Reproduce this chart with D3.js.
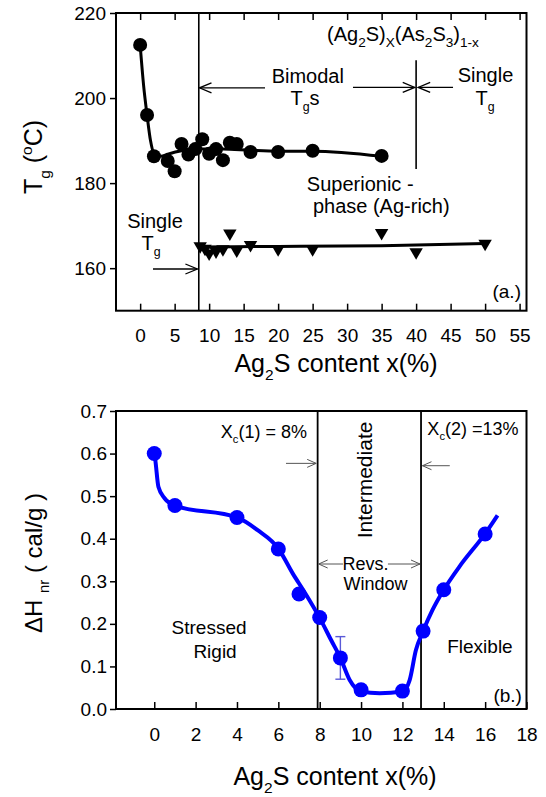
<!DOCTYPE html>
<html>
<head>
<meta charset="utf-8">
<script src="https://cdn.jsdelivr.net/npm/d3@7"></script>
<style>
  body { margin: 0; background: #fff; }
  svg text { font-family: Arial, "Liberation Sans", sans-serif; fill: #000; }
</style>
</head>
<body>
<svg id="chart"></svg>
<script>
// ---- panel (a.) data : Tg vs Ag2S content ----
const tgCircX = [0, 1, 2, 4, 5, 6, 7, 8, 9, 10, 11, 12, 13, 14, 16, 20, 25, 35];
const tgCircY = [212.5, 196, 186.3, 185.2, 182.8, 189.2, 186.7, 188, 190.3, 186.9, 188, 185.4, 189.5, 189.2, 187.3, 187.3, 187.6, 186.4];
const tgCircFitX = [0, 0.5, 1, 1.5, 2, 3, 4, 6, 8, 12, 16, 20, 25, 35];
const tgCircFitY = [212.5, 203, 196, 190, 187, 186.3, 186.8, 187.6, 188, 188, 187.7, 187.5, 187.5, 186.3];
const tgTriX = [8.7, 9.4, 10, 11, 12, 13, 14, 16, 20, 25, 35, 40, 50];
const tgTriY = [165.2, 164.6, 163.5, 164, 164.5, 168.2, 164.2, 165.5, 164.5, 164.5, 168.3, 163.8, 165.8];
const tgTriFitX = [8.5, 20, 35, 50];
const tgTriFitY = [165, 165.1, 165.3, 165.8];
const topTicksX = [0, 5, 10, 15, 20, 25, 30, 35, 40, 45, 50, 55];
const topTicksY = [160, 180, 200, 220];

// ---- panel (b.) data : non-reversing enthalpy ----
const dhX = [0, 1, 4, 6, 7, 8, 9, 10, 12, 13, 14, 16];
const dhY = [0.6, 0.478, 0.45, 0.376, 0.27, 0.215, 0.12, 0.045, 0.042, 0.183, 0.28, 0.411];
const dhFitX = [0, 0.05, 0.2, 0.5, 1, 4, 5, 6, 6.7, 7.3, 8, 8.55, 9, 9.45, 10, 10.9, 12, 12.35, 12.65, 13, 13.45, 14, 14.75, 16, 16.6];
const dhFitY = [0.6, 0.585, 0.522, 0.495, 0.478, 0.45, 0.42, 0.377, 0.318, 0.272, 0.214, 0.162, 0.12, 0.068, 0.041, 0.037, 0.041, 0.068, 0.138, 0.183, 0.232, 0.28, 0.334, 0.412, 0.455];
const dhErrX = [9];
const dhErrLo = [0.07];
const dhErrHi = [0.17];
const botTicksX = [0, 2, 4, 6, 8, 10, 12, 14, 16, 18];
const botTicksY = [0.0, 0.1, 0.2, 0.3, 0.4, 0.5, 0.6, 0.7];
const windowEdges = [7.9, 12.9];

const svg = d3.select('#chart').attr('width', 546).attr('height', 797);

// small helper for text with sub/superscripts
function richText(g, parts, size, ratio = 0.62) {
  const t = g.append('text').style('font-size', size + 'px');
  let shift = 0;
  parts.forEach(([str, kind]) => {
    const target = kind === 'sub' ? size * 0.3 : kind === 'sup' ? -size * 0.4 : 0;
    t.append('tspan')
      .text(str)
      .attr('dy', target - shift)
      .style('font-size', (kind ? size * ratio : size) + 'px');
    shift = target;
  });
  return t;
}

// line with open chevron head at (x2,y2)
function arrow(g, x1, y1, x2, y2, len, half, col, w) {
  g.append('line').attr('x1', x1).attr('y1', y1).attr('x2', x2).attr('y2', y2)
    .style('stroke', col).style('stroke-width', w);
  const dir = Math.sign(x2 - x1);
  g.append('path')
    .attr('d', `M${x2 - dir * len},${y2 - half}L${x2},${y2}L${x2 - dir * len},${y2 + half}`)
    .style('fill', 'none').style('stroke', col).style('stroke-width', w);
}

// ================= panel (a.) =================
const xA = d3.scaleLinear().domain([-3.5, 56]).range([116, 526.5]);
const yA = d3.scaleLinear().domain([150, 220]).range([310.7, 13]);
const gA = svg.append('g');

gA.append('g').attr('transform', `translate(0,${yA(150)})`)
  .call(d3.axisBottom(xA).tickValues(topTicksX).tickSizeInner(-7).tickSizeOuter(0).tickPadding(18))
  .call(a => a.select('.domain').remove());
gA.append('g').attr('transform', `translate(0,${yA(220)})`)
  .call(d3.axisTop(xA).tickValues(topTicksX).tickSizeInner(-7).tickSizeOuter(0).tickFormat(''))
  .call(a => a.select('.domain').remove());
gA.append('g').attr('transform', `translate(${xA(-3.5)},0)`)
  .call(d3.axisLeft(yA).tickValues(topTicksY).tickSizeInner(6).tickSizeOuter(0).tickPadding(4))
  .call(a => a.select('.domain').remove());

gA.append('rect')
  .attr('x', xA(-3.5)).attr('y', yA(220))
  .attr('width', xA(56) - xA(-3.5)).attr('height', yA(150) - yA(220))
  .style('fill', 'none').style('stroke', '#000').style('stroke-width', 2);

gA.selectAll('.tick text').style('font-size', '19px');
gA.selectAll('.tick line').style('stroke-width', 1.5);

// dividing lines
gA.append('line').attr('x1', xA(8.5)).attr('x2', xA(8.5)).attr('y1', yA(220)).attr('y2', yA(150))
  .style('stroke', '#000').style('stroke-width', 1.6);
gA.append('line').attr('x1', xA(40)).attr('x2', xA(40)).attr('y1', yA(208.9)).attr('y2', yA(183.3))
  .style('stroke', '#000').style('stroke-width', 1.6);

// fit lines
const lineA = d3.line().x(d => xA(d[0])).y(d => yA(d[1])).curve(d3.curveMonotoneX);
gA.append('path').datum(d3.zip(tgCircFitX, tgCircFitY)).attr('d', lineA)
  .style('fill', 'none').style('stroke', '#000').style('stroke-width', 3);
gA.append('path').datum(d3.zip(tgTriFitX, tgTriFitY)).attr('d', lineA)
  .style('fill', 'none').style('stroke', '#000').style('stroke-width', 3);

// markers
gA.selectAll('circle.tg').data(d3.zip(tgCircX, tgCircY)).enter().append('circle')
  .attr('cx', d => xA(d[0])).attr('cy', d => yA(d[1])).attr('r', 7).style('fill', '#000');
const tri = d3.symbol().type(d3.symbolTriangle).size(78);
gA.selectAll('path.tri').data(d3.zip(tgTriX, tgTriY)).enter().append('path')
  .attr('d', tri)
  .attr('transform', d => `translate(${xA(d[0])},${yA(d[1])}) rotate(180)`)
  .style('fill', '#000');

// annotations (a.)
richText(gA, [['(Ag'], ['2', 'sub'], ['S)'], ['X', 'sub'], ['(As'], ['2', 'sub'], ['S'], ['3', 'sub'], [')'], ['1-x', 'sub']], 20, 0.68)
  .attr('x', xA(38.1)).attr('y', yA(213.4)).style('text-anchor', 'middle');
gA.append('text').text('Bimodal').attr('x', xA(24.3)).attr('y', yA(203.5))
  .style('font-size', '20px').style('text-anchor', 'middle');
richText(gA, [['T'], ['g', 'sub'], ['s']], 20)
  .attr('x', xA(23.9)).attr('y', yA(198.3)).style('text-anchor', 'middle');
gA.append('text').text('Single').attr('x', xA(50.06)).attr('y', yA(203.8))
  .style('font-size', '20px').style('text-anchor', 'middle');
richText(gA, [['T'], ['g', 'sub']], 20)
  .attr('x', xA(50)).attr('y', yA(198.3)).style('text-anchor', 'middle');
gA.append('text').text('Superionic -').attr('x', xA(31.9)).attr('y', yA(178.1))
  .style('font-size', '20px').style('text-anchor', 'middle');
gA.append('text').text('phase (Ag-rich)').attr('x', xA(34.95)).attr('y', yA(173))
  .style('font-size', '20px').style('text-anchor', 'middle');
gA.append('text').text('Single').attr('x', xA(2.15)).attr('y', yA(169.4))
  .style('font-size', '20px').style('text-anchor', 'middle');
richText(gA, [['T'], ['g', 'sub']], 20)
  .attr('x', xA(1.6)).attr('y', yA(164.2)).style('text-anchor', 'middle');
gA.append('text').text('(a.)').attr('x', xA(55.2)).attr('y', yA(153))
  .style('font-size', '19px').style('text-anchor', 'end');

arrow(gA, xA(18.1), yA(202.4), xA(8.6), yA(202.4), 12, 5, '#000', 1.3);
arrow(gA, xA(30.85), yA(202.5), xA(39.8), yA(202.5), 12, 5, '#000', 1.3);
arrow(gA, xA(45.35), yA(202.5), xA(40.3), yA(202.5), 12, 5, '#000', 1.3);
arrow(gA, xA(1.86), yA(159.8), xA(8.3), yA(159.8), 12, 5, '#000', 1.3);

// axis titles (a.)
richText(gA, [['Ag'], ['2', 'sub'], ['S content x(%)']], 25)
  .attr('x', 336).attr('y', 372).style('text-anchor', 'middle');
richText(gA, [['T'], ['g', 'sub'], [' ('], ['o', 'sup'], ['C)']], 25)
  .attr('transform', 'translate(42,157) rotate(-90)').style('text-anchor', 'middle');

// ================= panel (b.) =================
const xB = d3.scaleLinear().domain([-1.85, 18]).range([116, 526.5]);
const yB = d3.scaleLinear().domain([0, 0.7]).range([709, 411]);
const gB = svg.append('g');

gB.append('g').attr('transform', `translate(0,${yB(0)})`)
  .call(d3.axisBottom(xB).tickValues(botTicksX).tickSizeInner(-7).tickSizeOuter(0).tickPadding(19))
  .call(a => a.select('.domain').remove());
gB.append('g').attr('transform', `translate(${xB(-1.85)},0)`)
  .call(d3.axisLeft(yB).tickValues(botTicksY).tickFormat(d3.format('.1f')).tickSizeInner(6).tickSizeOuter(0).tickPadding(3))
  .call(a => a.select('.domain').remove());

gB.append('rect')
  .attr('x', xB(-1.85)).attr('y', yB(0.7))
  .attr('width', xB(18) - xB(-1.85)).attr('height', yB(0) - yB(0.7))
  .style('fill', 'none').style('stroke', '#000').style('stroke-width', 2);

gB.selectAll('.tick text').style('font-size', '19px');
gB.selectAll('.tick line').style('stroke-width', 1.5);

gB.selectAll('line.edge').data(windowEdges).enter().append('line')
  .attr('x1', d => xB(d)).attr('x2', d => xB(d)).attr('y1', yB(0.7)).attr('y2', yB(0))
  .style('stroke', '#000').style('stroke-width', 1.8);

// error bar
const capW = 5;
dhErrX.forEach((x, i) => {
  const eb = gB.append('g').style('stroke', '#5a5ad8').style('stroke-width', 1.4);
  eb.append('line').attr('x1', xB(x)).attr('x2', xB(x)).attr('y1', yB(dhErrLo[i])).attr('y2', yB(dhErrHi[i]));
  eb.append('line').attr('x1', xB(x) - capW).attr('x2', xB(x) + capW).attr('y1', yB(dhErrLo[i])).attr('y2', yB(dhErrLo[i]));
  eb.append('line').attr('x1', xB(x) - capW).attr('x2', xB(x) + capW).attr('y1', yB(dhErrHi[i])).attr('y2', yB(dhErrHi[i]));
});

const lineB = d3.line().x(d => xB(d[0])).y(d => yB(d[1])).curve(d3.curveMonotoneX);
gB.append('path').datum(d3.zip(dhFitX, dhFitY)).attr('d', lineB)
  .style('fill', 'none').style('stroke', '#0000ff').style('stroke-width', 4);
gB.selectAll('circle.dh').data(d3.zip(dhX, dhY)).enter().append('circle')
  .attr('cx', d => xB(d[0])).attr('cy', d => yB(d[1])).attr('r', 7.5).style('fill', '#0000ff');

// annotations (b.)
richText(gB, [['X'], ['c', 'sub'], ['(1) = 8%']], 18)
  .attr('x', xB(5.3)).attr('y', yB(0.6366)).style('text-anchor', 'middle');
richText(gB, [['X'], ['c', 'sub'], ['(2) =13%']], 18)
  .attr('x', xB(15.41)).attr('y', yB(0.6437)).style('text-anchor', 'middle');
arrow(gB, xB(6.37), yB(0.577), xB(7.83), yB(0.577), 9, 4, '#555', 1);
arrow(gB, xB(14.29), yB(0.5715), xB(12.97), yB(0.5715), 9, 4, '#555', 1);

gB.append('text').text('Intermediate')
  .attr('transform', `translate(${xB(10.53)},${yB(0.538)}) rotate(-90)`)
  .style('font-size', '21px').style('text-anchor', 'middle');
gB.append('text').text('Revs.').attr('x', xB(10.22)).attr('y', yB(0.3265))
  .style('font-size', '18px').style('text-anchor', 'middle');
gB.append('text').text('Window').attr('x', xB(10.7)).attr('y', yB(0.2795))
  .style('font-size', '18px').style('text-anchor', 'middle');
arrow(gB, xB(9.13), yB(0.3406), xB(7.95), yB(0.3406), 9, 4, '#555', 1);
arrow(gB, xB(11.3), yB(0.3406), xB(12.85), yB(0.3406), 9, 4, '#555', 1);

gB.append('text').text('Stressed').attr('x', xB(2.65)).attr('y', yB(0.176))
  .style('font-size', '19px').style('text-anchor', 'middle');
gB.append('text').text('Rigid').attr('x', xB(2.94)).attr('y', yB(0.12))
  .style('font-size', '19px').style('text-anchor', 'middle');
gB.append('text').text('Flexible').attr('x', xB(15.75)).attr('y', yB(0.1315))
  .style('font-size', '19px').style('text-anchor', 'middle');
gB.append('text').text('(b.)').attr('x', xB(17.78)).attr('y', yB(0.017))
  .style('font-size', '19px').style('text-anchor', 'end');

// axis titles (b.)
richText(gB, [['Ag'], ['2', 'sub'], ['S content x(%)']], 25)
  .attr('x', 335).attr('y', 785).style('text-anchor', 'middle');
richText(gB, [['\u0394H '], ['nr', 'sub'], [' ( cal/g )']], 24)
  .attr('transform', 'translate(42,563) rotate(-90)').style('text-anchor', 'middle');
</script>
</body>
</html>
